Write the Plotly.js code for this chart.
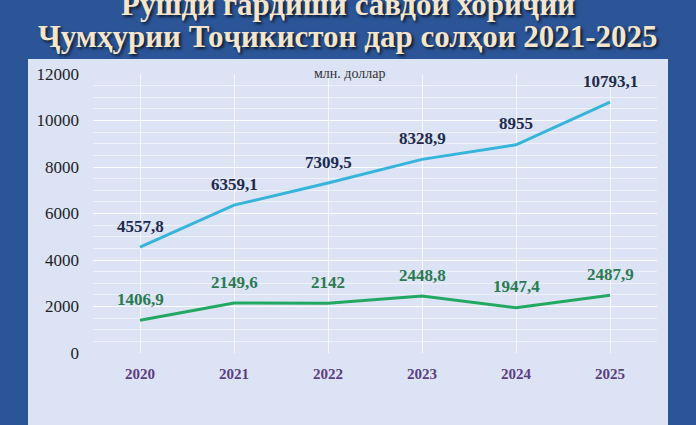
<!DOCTYPE html>
<html>
<head>
<meta charset="utf-8">
<script src="https://cdn.plot.ly/plotly-3.0.1.min.js"></script>
<style>
  html, body { margin: 0; padding: 0; background: #2b5597; }
  #chart { width: 696px; height: 425px; }
</style>
</head>
<body>
<div id="chart"></div>
<script>
'use strict';

// data
const years = ['2020', '2021', '2022', '2023', '2024', '2025'];
const turnover = [4557.8, 6359.1, 7309.5, 8328.9, 8955, 10793.1];
const exportsVal = [1406.9, 2149.6, 2142, 2448.8, 1947.4, 2487.9];
const titleLines = ['Рушди гардиши савдои хориҷии', 'Ҷумҳурии Тоҷикистон дар солҳои 2021-2025'];
const unitLabel = 'млн. доллар';

const fmt = v => String(v).replace('.', ',');
const SERIF = '"Liberation Serif", "DejaVu Serif", serif';

// pixel helpers for the fixed 696x425 frame (plot area 93..657 x, 74..353 y)
const L = 93, R = 657, T = 74, B = 353;
const px = x => (x - L) / (R - L);
const py = y => (B - y) / (B - T);

const traces = [
    { x: years, y: turnover, type: 'scatter', mode: 'lines', line: { color: '#36b4da', width: 3 }, name: 'Гардиши савдо', hoverinfo: 'x+y' },
    { x: years, y: exportsVal, type: 'scatter', mode: 'lines', line: { color: '#23a862', width: 3 }, name: 'Содирот', hoverinfo: 'x+y' }
];

// category axis: annotations placed by category index
const labelAnn = (ys, color) => ys.map((v, i) => ({
    x: i, y: v, xref: 'x', yref: 'y', text: fmt(v), showarrow: false, yshift: 21,
    xanchor: 'center', yanchor: 'middle',
    font: { family: SERIF, size: 17, color, weight: 'bold' }
}));

const titleFont = { family: SERIF, size: 31, color: '#f4e5cc', weight: 'bold', shadow: '2px 2px 3px rgba(0,0,0,0.7)' };

const annotations = [
    ...labelAnn(turnover, '#1d2a4e'),
    ...labelAnn(exportsVal, '#2a7a52'),
    { x: px(349), y: py(73), xref: 'paper', yref: 'paper', xanchor: 'center', yanchor: 'middle', text: unitLabel, showarrow: false,
      font: { family: SERIF, size: 14, color: '#333333' } },
    { x: px(348), y: py(4), xref: 'paper', yref: 'paper', xanchor: 'center', yanchor: 'middle', text: titleLines[0], showarrow: false, font: titleFont },
    { x: px(348), y: py(37), xref: 'paper', yref: 'paper', xanchor: 'center', yanchor: 'middle', text: titleLines[1], showarrow: false, font: titleFont }
];

const layout = {
    width: 696, height: 425,
    margin: { l: L, r: 696 - R, t: T, b: 425 - B },
    paper_bgcolor: '#2b5597',
    plot_bgcolor: 'rgba(0,0,0,0)',
    showlegend: false,
    shapes: [
        { type: 'rect', xref: 'paper', yref: 'paper', x0: px(28), x1: px(668), y0: py(440), y1: py(59),
          fillcolor: '#dce3f4', line: { width: 0 }, layer: 'below' }
    ],
    xaxis: {
        type: 'category', range: [-0.5, 5.5], showgrid: true, gridcolor: 'rgba(255,255,255,0.75)', gridwidth: 1,
        zeroline: false, showline: false, ticks: '', ticklabelstandoff: 10,
        tickfont: { family: SERIF, size: 15, color: '#5a3d82', weight: 'bold' }
    },
    yaxis: {
        range: [0, 12000], dtick: 2000, tickformat: 'd', showgrid: true, gridcolor: 'rgba(255,255,255,0.9)', gridwidth: 1,
        zeroline: false, showline: false, ticks: '', ticklabelstandoff: 13,
        minor: { dtick: 500, showgrid: true, gridcolor: 'rgba(255,255,255,0.5)' },
        tickfont: { family: SERIF, size: 17, color: '#1e1e1e' }
    },
    annotations
};

Plotly.newPlot('chart', traces, layout, { displayModeBar: false, staticPlot: true });
</script>
</body>
</html>
